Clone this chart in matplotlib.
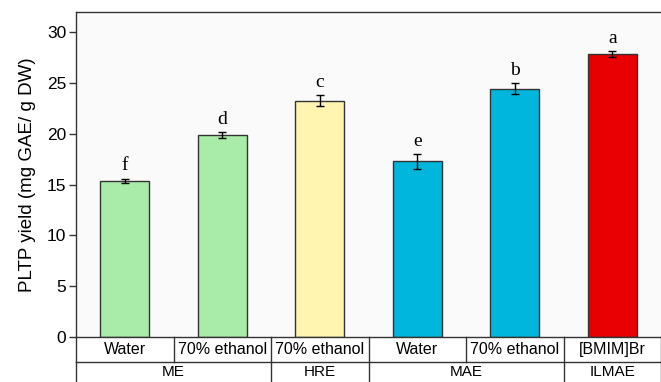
import matplotlib.pyplot as plt
import numpy as np

# extraction yield per method / solvent
solvents = ['Water', '70% ethanol', '70% ethanol', 'Water', '70% ethanol', '[BMIM]Br']
methods = ['ME', 'HRE', 'MAE', 'ILMAE']
method_span = [2, 1, 2, 1]  # how many solvent columns each method covers
yields = [15.4, 19.85, 23.25, 17.3, 24.45, 27.85]
errors = [0.2, 0.3, 0.55, 0.75, 0.55, 0.3]
letters = ['f', 'd', 'c', 'e', 'b', 'a']
colors = ['#A9EBA9', '#A9EBA9', '#FFF5B0', '#00B6DD', '#00B6DD', '#E80000']

plt.rcParams['font.family'] = ['Liberation Sans', 'DejaVu Sans']
fig = plt.figure(figsize=(6.61, 3.82), dpi=100)
ax = fig.add_axes([76 / 661, 45 / 382, 585 / 661, 325 / 382])
ax.set_facecolor('#FAFAFA')

x = np.arange(len(yields))
ax.bar(x, yields, width=0.5, color=colors, edgecolor='#333333', linewidth=1, zorder=2)
ax.errorbar(x, yields, yerr=errors, fmt='none', ecolor='black', elinewidth=1,
            capsize=3, capthick=1, zorder=3)
for xi, y, e, t in zip(x, yields, errors, letters):
    ax.annotate(t, (xi, y + e), xytext=(0, 3), textcoords='offset points',
                ha='center', va='bottom', fontsize=14, family='Liberation Serif')

ax.set_xlim(-0.5, 5.5)
ax.set_ylim(0, 32)
ax.set_yticks(range(0, 31, 5))
ax.tick_params(axis='y', direction='out', length=5, width=1, labelsize=12.5, pad=2, color='#333333')
ax.set_xticks([])
ax.set_ylabel('PLTP yield (mg GAE/ g DW)', fontsize=13.5, labelpad=8)
for s in ax.spines.values():
    s.set_color('#333333')
    s.set_linewidth(1)
ax.spines['right'].set_visible(False)

# two-row category table under the x axis
tr = ax.get_xaxis_transform()
r1, r2 = -25 / 325, -55 / 325
lc = dict(color='#333333', lw=1, transform=tr, clip_on=False)
ax.plot([-0.5, 5.5], [r1, r1], **lc)
for b in range(7):
    ax.plot([b - 0.5, b - 0.5], [0, r1], **lc)
edges = np.concatenate([[0], np.cumsum(method_span)]) - 0.5
for b in edges:
    ax.plot([b, b], [r1, r2], **lc)
for xi, s in zip(x, solvents):
    ax.text(xi, r1 / 2, s, transform=tr, ha='center', va='center', fontsize=11.5)
for m, a, b in zip(methods, edges[:-1], edges[1:]):
    ax.text((a + b) / 2, r1 - 10 / 325, m, transform=tr, ha='center', va='center', fontsize=11)

fig.savefig('out.png', dpi=100)
